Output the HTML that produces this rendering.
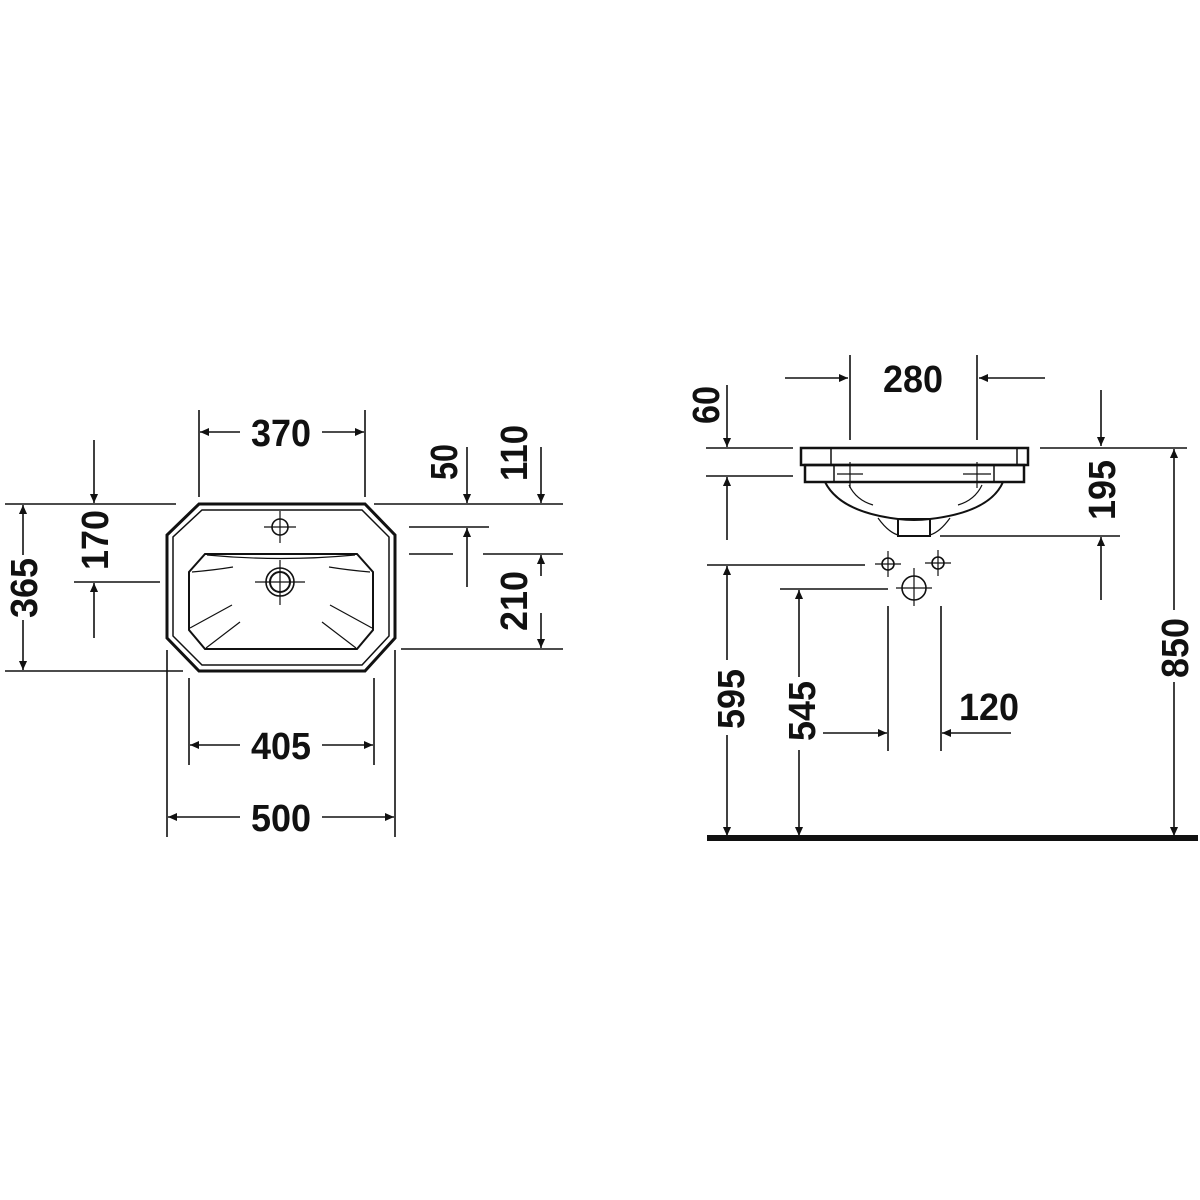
<!DOCTYPE html>
<html><head><meta charset="utf-8"><style>html,body{margin:0;padding:0;background:#fff}svg{display:block}
text{font-family:"Liberation Sans",sans-serif;font-weight:bold;font-size:38px;fill:#111}</style></head>
<body>
<svg width="1200" height="1200" viewBox="0 0 1200 1200" xmlns="http://www.w3.org/2000/svg">
<defs>
<marker id="a" viewBox="0 0 10 10" refX="10" refY="5" markerWidth="20" markerHeight="9" markerUnits="userSpaceOnUse" orient="auto"><path d="M0,0.5 L10,5 L0,9.5 z" fill="#111"/></marker>
</defs>
<g stroke="#111" fill="none" stroke-width="1.6">
<!-- LEFT: top view -->
<path d="M199,504 L365,504 L395,535 L395,638 L365,671 L199,671 L167,638 L167,535 Z" stroke-width="3"/>
<path d="M202,510 L362,510 L389,537 L389,636 L362,665 L202,665 L173,636 L173,537 Z" stroke-width="1.5"/>
<path d="M205,554 L357,554 L373,572 L373,630 L357,649 L205,649 L189,630 L189,572 Z" stroke-width="2"/>
<path d="M207,555 Q281,562 355,555" stroke-width="1.2"/>
<path d="M192,572 Q215,570 233,567 M370,572 Q347,570 329,567" stroke-width="1.2"/>
<path d="M190,628 L232,605 M206,648 L240,622 M372,628 L330,605 M356,648 L322,622" stroke-width="1.2"/>
<circle cx="280" cy="527" r="8"/><path d="M264,527 H296 M280,511 V543" stroke-width="1.2"/>
<circle cx="280" cy="582" r="14"/><circle cx="280" cy="582" r="10" stroke-width="2"/><path d="M255,582 H305 M280,560 V605" stroke-width="1.2"/>
<path d="M199,410 V497 M365,410 V497"/>
<path d="M374,504 H563 M409,527 H489 M409,554 H453 M483,554 H563 M401,649 H563"/>
<path d="M5,504 H176 M5,671 H183 M74,582 H160"/>
<path d="M189,678 V765 M374,678 V765 M167,650 V837 M395,650 V837"/>
</g>
<g stroke="#111" fill="none" stroke-width="1.6" marker-end="url(#a)">
<path d="M240,432 H200"/><path d="M322,432 H364"/>
<path d="M240,745 H190"/><path d="M322,745 H373"/>
<path d="M240,817 H168"/><path d="M322,817 H394"/>
<path d="M23,555 V505"/><path d="M23,620 V670"/>
<path d="M94,440 V503"/><path d="M94,638 V583"/>
<path d="M467,447 V503"/><path d="M467,587 V528"/>
<path d="M541,447 V503"/><path d="M541,576 V555"/><path d="M541,613 V648"/>
</g>
<g stroke="#111" fill="none" stroke-width="1.6">
<rect x="801" y="448" width="227" height="17" stroke-width="2.5"/>
<rect x="805" y="465" width="219" height="17" stroke-width="2.5"/>
<path d="M831,448 V465 M1017,448 V465 M834,465 V482 M994,465 V482" stroke-width="1.5"/>
<path d="M825,482 Q840,512 898,519 M930,519 Q990,512 1003,482" stroke-width="2"/>
<path d="M898,519 Q914,521 930,519" stroke-width="2"/>
<path d="M849,485 Q856,500 873,505 M982,485 Q975,500 958,505" stroke-width="1.2"/>
<path d="M878,518 Q888,532 898,535 M950,518 Q940,532 930,535" stroke-width="1.2"/>
<rect x="898" y="519" width="32" height="17" stroke-width="2"/>
<path d="M837,474 H863 M850,462 V488 M963,474 H991 M977,462 V488" stroke-width="1.2"/>
<circle cx="888" cy="564" r="6"/><path d="M875,564 H901 M888,551 V577" stroke-width="1.2"/>
<circle cx="938" cy="563" r="6"/><path d="M925,563 H951 M938,550 V576" stroke-width="1.2"/>
<circle cx="914" cy="588" r="12"/><path d="M896,588 H932 M914,568 V606" stroke-width="1.2"/>
<path d="M850,355 V440 M977,355 V440"/>
<path d="M706,448 H793 M706,476 H793 M1040,448 H1187 M940,536 H1120 M707,565 H865 M780,589 H888 M888,606 V751 M941,606 V751"/>
</g>
<g stroke="#111" fill="none" stroke-width="1.6" marker-end="url(#a)">
<path d="M785,378 H848"/><path d="M1045,378 H979"/>
<path d="M727,385 V447"/><path d="M727,540 V477"/>
<path d="M1101,390 V446"/><path d="M1101,600 V537"/>
<path d="M1174,610 V449"/><path d="M1174,682 V836"/>
<path d="M727,660 V566"/><path d="M727,735 V836"/>
<path d="M799,677 V590"/><path d="M799,750 V836"/>
<path d="M823,733 H887"/><path d="M1011,733 H942"/>
</g>
<rect x="707" y="835" width="491" height="6" fill="#111"/>
<g text-anchor="middle">
<text x="281" y="446" textLength="60" lengthAdjust="spacingAndGlyphs">370</text>
<text x="281" y="759" textLength="60" lengthAdjust="spacingAndGlyphs">405</text>
<text x="281" y="831" textLength="60" lengthAdjust="spacingAndGlyphs">500</text>
<text x="913" y="392" textLength="60" lengthAdjust="spacingAndGlyphs">280</text>
<text x="989" y="720" textLength="60" lengthAdjust="spacingAndGlyphs">120</text>
<text transform="translate(37,588) rotate(-90)" textLength="60" lengthAdjust="spacingAndGlyphs">365</text>
<text transform="translate(108,540) rotate(-90)" textLength="60" lengthAdjust="spacingAndGlyphs">170</text>
<text transform="translate(457,462) rotate(-90)" textLength="36" lengthAdjust="spacingAndGlyphs">50</text>
<text transform="translate(527,453) rotate(-90)" textLength="56" lengthAdjust="spacingAndGlyphs">110</text>
<text transform="translate(527,601) rotate(-90)" textLength="60" lengthAdjust="spacingAndGlyphs">210</text>
<text transform="translate(719,405) rotate(-90)" textLength="38" lengthAdjust="spacingAndGlyphs">60</text>
<text transform="translate(1115,490) rotate(-90)" textLength="60" lengthAdjust="spacingAndGlyphs">195</text>
<text transform="translate(1188,648) rotate(-90)" textLength="60" lengthAdjust="spacingAndGlyphs">850</text>
<text transform="translate(744,699) rotate(-90)" textLength="60" lengthAdjust="spacingAndGlyphs">595</text>
<text transform="translate(815,711) rotate(-90)" textLength="60" lengthAdjust="spacingAndGlyphs">545</text>
</g>
</svg>
</body></html>
